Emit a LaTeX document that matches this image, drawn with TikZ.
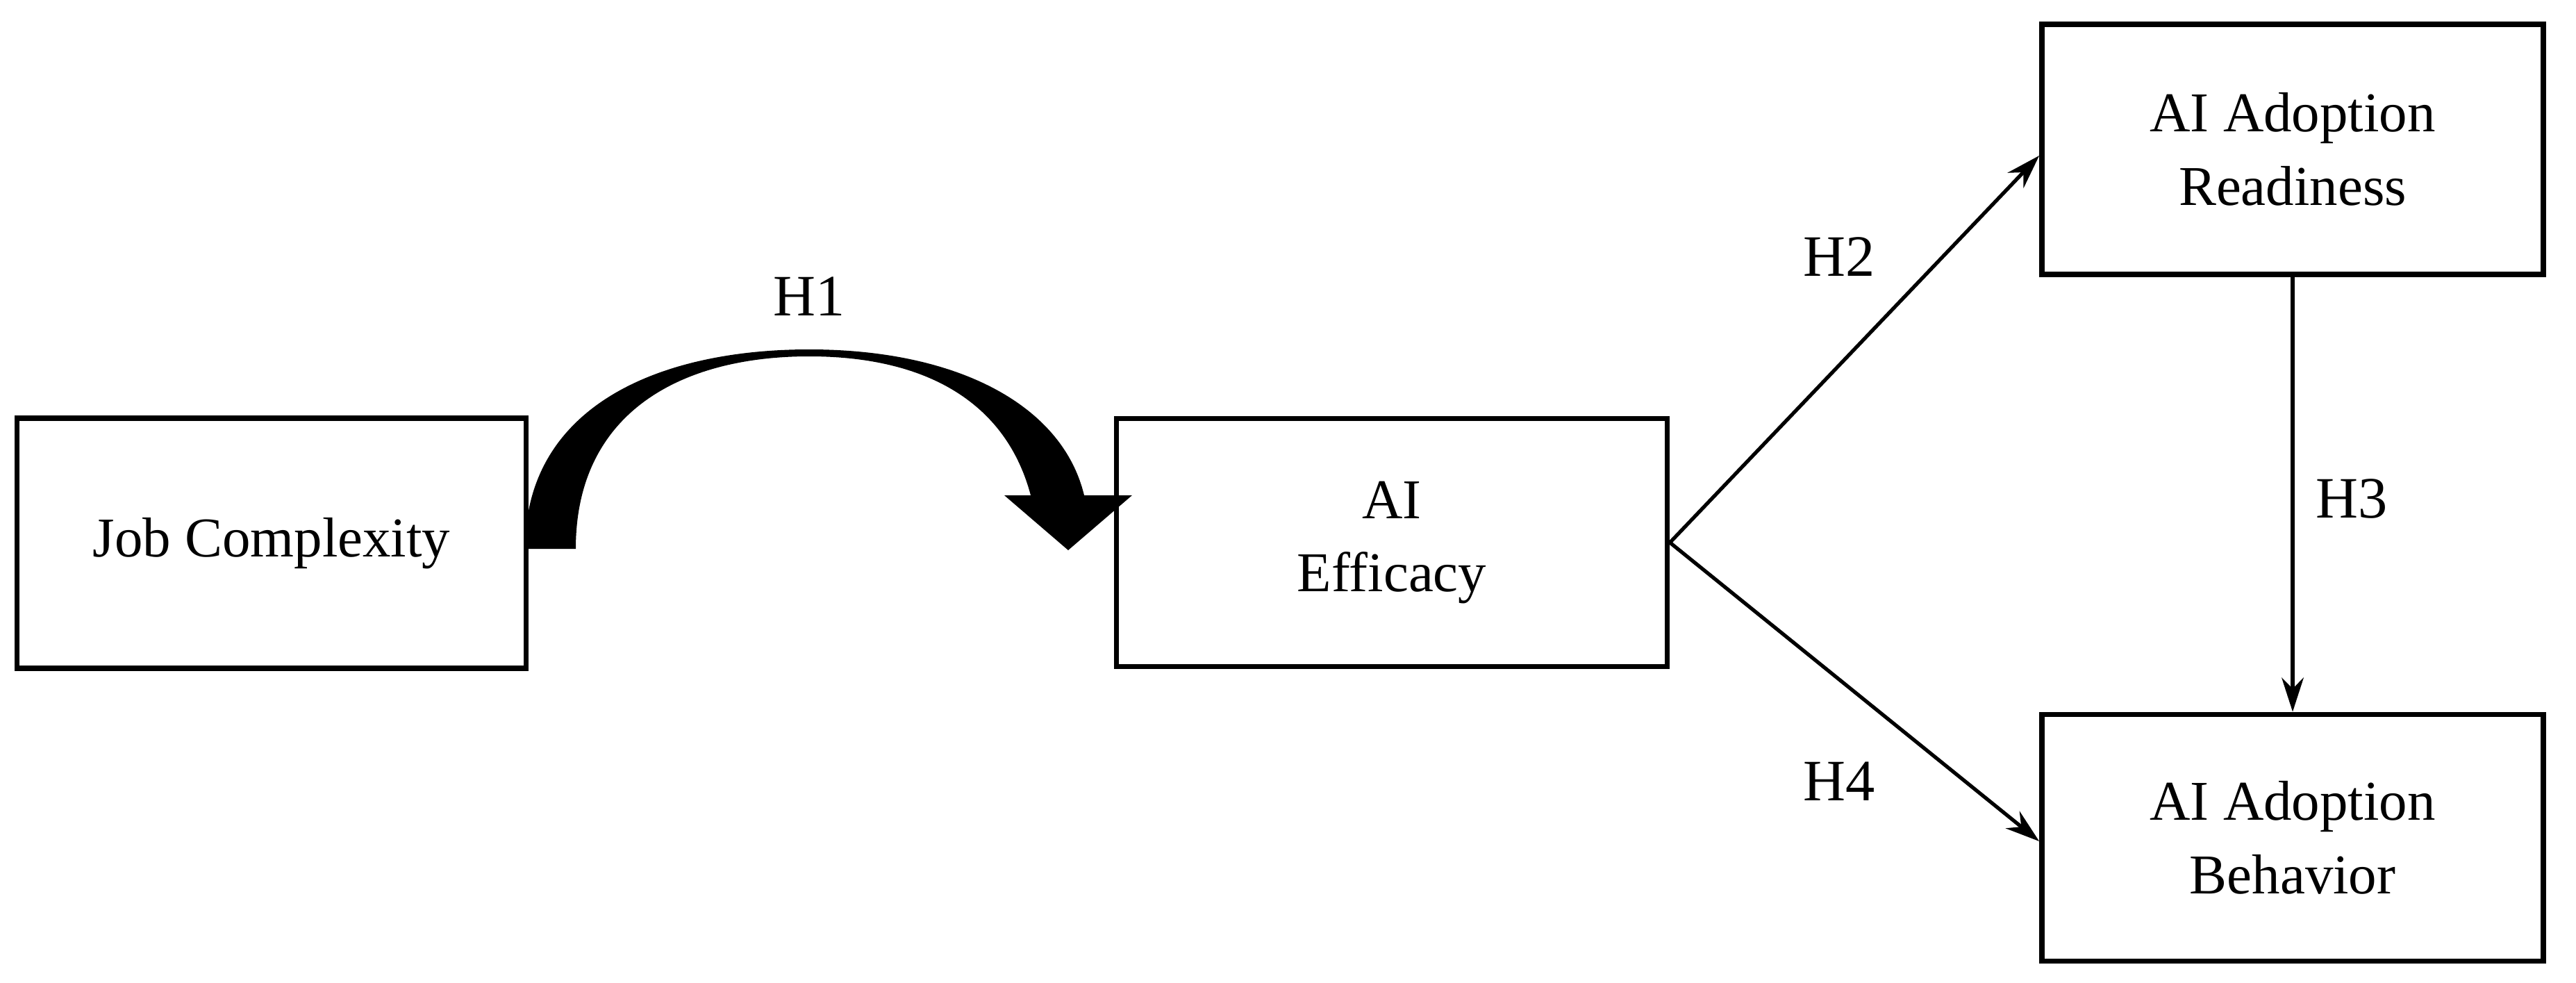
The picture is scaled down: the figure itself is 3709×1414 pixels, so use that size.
\documentclass[tikz,border=0pt]{standalone}
\usepackage{fontspec}
\setmainfont{Liberation Serif}
\usetikzlibrary{arrows.meta}
\begin{document}
\begin{tikzpicture}[x=0.01cm,y=0.01cm,
  box/.style={draw,line width=2.2pt,minimum width=#1*0.01cm,align=center,font=\fontsize{23}{30}\selectfont,inner sep=0pt},
  lab/.style={font=\fontsize{24}{28}\selectfont},
  conn/.style={line width=1.5pt,-{Stealth[length=14pt,width=9pt]}}]
\useasboundingbox (0,0) rectangle (3709,1414);
\node[box=733,minimum height=360*0.01cm] (job) at (391,632) {Job Complexity};
\node[box=793,minimum height=357*0.01cm] (eff) at (2004,633) {AI\\Efficacy};
\node[box=722,minimum height=360*0.01cm] (rea) at (3301,1199) {AI Adoption\\Readiness};
\node[box=722,minimum height=355*0.01cm] (beh) at (3301,208) {AI Adoption\\Behavior};
\fill (756,624) .. controls (756,830) and (950,911) .. (1165,911) .. controls (1380,911) and (1530,830) .. (1561,701) -- (1630,701) -- (1538,622) -- (1446,701) -- (1484,701) .. controls (1450,830) and (1340,901) .. (1165,901) .. controls (980,901) and (829,820) .. (829,624) -- cycle;
\node[lab] (h1) at (1165,987) {H1};
\coordinate (effout) at (eff.east);
\draw[conn] (effout) -- (rea.west |- 0,1190);
\draw[conn] (effout) -- (beh.west |- 0,203);
\draw[conn] (rea.south) -- (beh.north);
\node[lab] (h2) at (2648,1044) {H2};
\node[lab] (h3) at (3386,696) {H3};
\node[lab] (h4) at (2648,289) {H4};
\end{tikzpicture}
\end{document}
